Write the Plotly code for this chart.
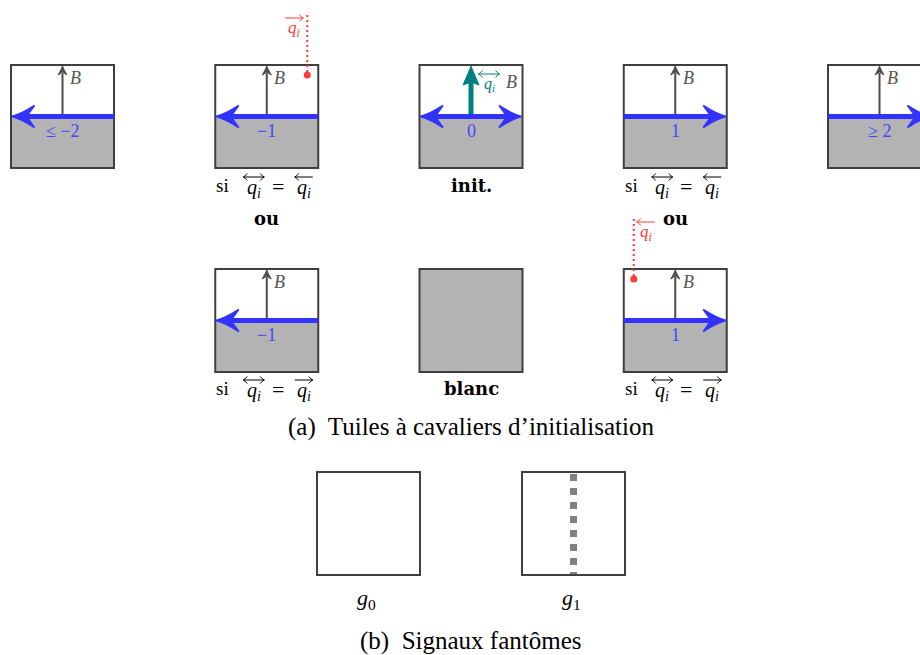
import plotly.graph_objects as go

# ---------------- data ----------------
row1_values = ["≤ −2", "−1", "0", "1", "≥ 2"]
row1_dirs = ["left", "left", "both", "right", "right"]
row1_captions = [None, ("↔", "←"), "init.", ("↔", "←"), None]
row1_or = [False, True, False, True, False]

row2_cols = [1, 2, 3]
row2_values = ["−1", None, "1"]
row2_dirs = ["left", None, "right"]
row2_captions = [("↔", "→"), "blanc", ("↔", "→")]

signal_marks = [("→", 0, 1), ("←", 1, 3)]  # (arrow over q_i, row, column)
init_label = "↔"

ghost_labels = ["0", "1"]
ghost_dotted = [False, True]

caption_a = "(a)  Tuiles à cavaliers d’initialisation"
caption_b = "(b)  Signaux fantômes"

# ---------------- styles / layout constants ----------------
W, H = 920, 655
TILE = 103
STEP = 204.25
X0 = 11
ROW_Y = [65, 269]
GHOST_X = [317, 522]
GHOST_Y = 472

BORDER = "#3f3f3f"
FILL = "#b3b3b3"
BLUE = "#3333ff"
BLUE_TXT = "#4545ff"
DARK = "#4d4d4d"
TEAL = "#008080"
RED = "#ff3b3b"
MATH = "Liberation Serif"
BOLD = "DejaVu Serif"

fig = go.Figure()


def text(x, y, s, size=18, color="black", family=MATH, xanchor="center"):
    fig.add_annotation(x=x, y=y, xref="x", yref="y", text=s, showarrow=False,
                       font=dict(size=size, color=color, family=family),
                       xanchor=xanchor, yanchor="middle")


def line(x0, y0, x1, y1, color, width, dash=None):
    fig.add_shape(type="line", x0=x0, y0=y0, x1=x1, y1=y1, xref="x", yref="y",
                  line=dict(color=color, width=width, dash=dash))


def path(d, color, fill=True, width=1):
    fig.add_shape(type="path", path=d, xref="x", yref="y",
                  fillcolor=color if fill else "rgba(0,0,0,0)",
                  line=dict(color=color, width=width))


def head_h(tx, y, d, L=23, hw=11, color=BLUE):
    p = (f"M {tx},{y} Q {tx-9*d},{y-2} {tx-L*d},{y-hw} "
         f"L {tx-(L-8)*d},{y} L {tx-L*d},{y+hw} Q {tx-9*d},{y+2} {tx},{y} Z")
    path(p, color, width=1.5)


def head_v(x, ty, L=9, hw=4.5, color=DARK):
    p = (f"M {x},{ty} Q {x-1},{ty+3} {x-hw},{ty+L} L {x},{ty+L-3} "
         f"L {x+hw},{ty+L} Q {x+1},{ty+3} {x},{ty} Z")
    path(p, color, width=1)


def over_arrow(xc, y, kind, color, half):
    line(xc - half, y, xc + half, y, color, 1)
    if kind in ("→", "↔"):
        path(f"M {xc+half-4},{y-3.5} Q {xc+half-1.5},{y-0.5} {xc+half},{y} "
             f"Q {xc+half-1.5},{y+0.5} {xc+half-4},{y+3.5}", color, fill=False, width=1)
    if kind in ("←", "↔"):
        path(f"M {xc-half+4},{y-3.5} Q {xc-half+1.5},{y-0.5} {xc-half},{y} "
             f"Q {xc-half+1.5},{y+0.5} {xc-half+4},{y+3.5}", color, fill=False, width=1)


def over_q(x, y, arrow, color="black", size=19, dy=11):
    text(x, y, "<i>q<sub>i</sub></i>", size=size, color=color)
    half = 10.5 if arrow == "↔" else 9
    over_arrow(x, y - dy, arrow, color, half)


def tile(x0, y0, value, direction, init=False, blank=False):
    cx = x0 + TILE / 2
    ym = y0 + TILE / 2
    if blank:
        fig.add_shape(type="rect", x0=x0, y0=y0, x1=x0 + TILE, y1=y0 + TILE,
                      xref="x", yref="y", fillcolor=FILL, line=dict(color=BORDER, width=2))
        return
    fig.add_shape(type="rect", x0=x0, y0=ym, x1=x0 + TILE, y1=y0 + TILE,
                  xref="x", yref="y", fillcolor=FILL, line=dict(width=0))
    fig.add_shape(type="rect", x0=x0, y0=y0, x1=x0 + TILE, y1=y0 + TILE,
                  xref="x", yref="y", fillcolor="rgba(0,0,0,0)",
                  line=dict(color=BORDER, width=2))
    if init:
        line(cx, ym, cx, y0 + 14, TEAL, 5)
        head_v(cx, y0 + 1, L=19, hw=8, color=TEAL)
        over_q(cx + 18, y0 + 19, init_label, color=TEAL, size=16, dy=10)
        text(cx + 40, y0 + 17, "<i>B</i>", size=18, color="#555555")
    else:
        line(cx, ym, cx, y0 + 8, DARK, 2)
        head_v(cx, y0 + 1)
        text(cx + 13, y0 + 13, "<i>B</i>", size=18, color="#555555")
    lx0 = x0 + (12 if direction in ("left", "both") else 0)
    lx1 = x0 + TILE - (12 if direction in ("right", "both") else 0)
    line(lx0, ym, lx1, ym, BLUE, 5)
    if direction in ("left", "both"):
        head_h(x0 + 0.5, ym, -1)
    if direction in ("right", "both"):
        head_h(x0 + TILE - 0.5, ym, 1)
    text(cx, ym + 14, value, size=18, color=BLUE_TXT)


def caption(cx, y, cap):
    if cap is None:
        return
    if isinstance(cap, str):
        text(cx, y, f"<b>{cap}</b>", size=18, family=BOLD)
        return
    a1, a2 = cap
    text(cx - 44, y, "si", size=19)
    over_q(cx - 13, y + 3, a1, size=20)
    text(cx + 11, y + 1, "=", size=22)
    over_q(cx + 37, y + 3, a2, size=20)


# row 1
for i in range(5):
    x0 = X0 + STEP * i
    tile(x0, ROW_Y[0], row1_values[i], row1_dirs[i], init=(row1_dirs[i] == "both"))
    caption(x0 + TILE / 2, ROW_Y[0] + 120, row1_captions[i])
    if row1_or[i]:
        text(x0 + TILE / 2, ROW_Y[0] + 153, "<b>ou</b>", size=18, family=BOLD)

# row 2
for j, c in enumerate(row2_cols):
    x0 = X0 + STEP * c
    tile(x0, ROW_Y[1], row2_values[j], row2_dirs[j], blank=(row2_values[j] is None))
    caption(x0 + TILE / 2, ROW_Y[1] + 119, row2_captions[j])

# red ghost-signal markers
for arrow, r, c in signal_marks:
    x0 = X0 + STEP * c
    y0 = ROW_Y[r]
    if arrow == "→":
        mx, lx = x0 + 92, x0 + 79
    else:
        mx, lx = x0 + 10, x0 + 22
    line(mx, y0 - 50, mx, y0 + 10, RED, 2, dash="2px,3px")
    fig.add_shape(type="circle", x0=mx - 3.5, y0=y0 + 10 - 3.5, x1=mx + 3.5, y1=y0 + 10 + 3.5,
                  xref="x", yref="y", fillcolor=RED, line=dict(width=0))
    over_q(lx, y0 - 36, arrow, color=RED, size=17, dy=11)

text(471, 427, caption_a, size=25)

# ghost tiles
for k in range(2):
    gx = GHOST_X[k]
    fig.add_shape(type="rect", x0=gx, y0=GHOST_Y, x1=gx + TILE, y1=GHOST_Y + TILE,
                  xref="x", yref="y", fillcolor="white", line=dict(color=BORDER, width=2))
    if ghost_dotted[k]:
        line(gx + TILE / 2, GHOST_Y + 2, gx + TILE / 2, GHOST_Y + TILE - 1, "#808080", 7, dash="dot")
    text(gx + TILE / 2 - 2, GHOST_Y + 127, f"<i>g</i><sub>{ghost_labels[k]}</sub>", size=22)

text(470, 641, caption_b, size=25)

fig.update_layout(
    width=W, height=H, margin=dict(l=0, r=0, t=0, b=0),
    paper_bgcolor="white", plot_bgcolor="white", showlegend=False,
    xaxis=dict(range=[0, W], visible=False, fixedrange=True),
    yaxis=dict(range=[H, 0], visible=False, fixedrange=True),
)
fig.write_html("out.html", config={"displayModeBar": False},
               post_script="document.body.style.margin='0px';document.body.style.overflow='hidden';")
